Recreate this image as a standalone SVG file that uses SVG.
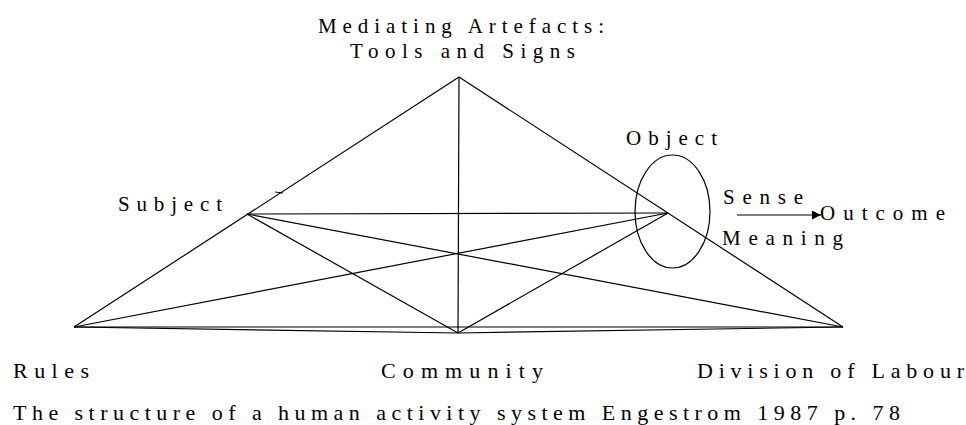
<svg xmlns="http://www.w3.org/2000/svg" width="966" height="425" viewBox="0 0 966 425">
<defs>
<style>
.t{font-family:"Liberation Serif","Times New Roman",serif;font-size:21px;fill:#000}
.b{font-family:"Liberation Serif","Times New Roman",serif;font-size:22px;fill:#000}
.l{stroke:#000;stroke-width:1.2;fill:none}
</style>
<marker id="ah" viewBox="0 0 10 10" refX="10" refY="5" markerWidth="16" markerHeight="9" markerUnits="userSpaceOnUse" orient="auto"><path d="M0,0 L10,5 L0,10 Z" fill="#000"/></marker>
</defs>
<rect width="966" height="425" fill="#fff"/>
<g id="connectors" class="l">
<line x1="459" y1="77" x2="74" y2="327"/>
<line x1="459" y1="77" x2="843" y2="327"/>
<line x1="459" y1="77" x2="458" y2="333"/>
<line x1="74" y1="327" x2="843" y2="327"/>
<line x1="247" y1="214" x2="668" y2="213"/>
<line x1="247" y1="214" x2="458" y2="333"/>
<line x1="668" y1="213" x2="458" y2="333"/>
<line x1="247" y1="214" x2="843" y2="327"/>
<line x1="668" y1="213" x2="74" y2="327"/>
<line x1="74" y1="327" x2="458" y2="333"/>
<line x1="458" y1="333" x2="843" y2="327"/>
<line x1="275" y1="192" x2="283" y2="193"/>
<line x1="737" y1="215" x2="821" y2="215" marker-end="url(#ah)"/>
</g>
<g id="object-ellipse"><ellipse cx="672.5" cy="211.5" rx="37.5" ry="56.5" class="l"/></g>
<g id="mediating"><text class="t" x="318" y="33" textLength="286" lengthAdjust="spacing">Mediating Artefacts:</text><text class="t" x="350" y="58" textLength="225" lengthAdjust="spacing">Tools and Signs</text></g>
<g id="subject"><text class="t" x="118" y="211" textLength="104" lengthAdjust="spacing">Subject</text></g>
<g id="object"><text class="t" x="626" y="145" textLength="91" lengthAdjust="spacing">Object</text></g>
<g id="sense"><text class="t" x="723" y="204" textLength="80" lengthAdjust="spacing">Sense</text></g>
<g id="outcome"><text class="t" x="820" y="220" textLength="125" lengthAdjust="spacing">Outcome</text></g>
<g id="meaning"><text class="t" x="722" y="245" textLength="121" lengthAdjust="spacing">Meaning</text></g>
<g id="rules"><text class="b" x="13" y="378" textLength="76" lengthAdjust="spacing">Rules</text></g>
<g id="community"><text class="b" x="381" y="378" textLength="162" lengthAdjust="spacing">Community</text></g>
<g id="division"><text class="b" x="697" y="378" textLength="267" lengthAdjust="spacing">Division of Labour</text></g>
<g id="caption"><text class="b" x="13" y="420" textLength="887" lengthAdjust="spacing">The structure of a human activity system Engestrom 1987 p. 78</text></g>
</svg>
